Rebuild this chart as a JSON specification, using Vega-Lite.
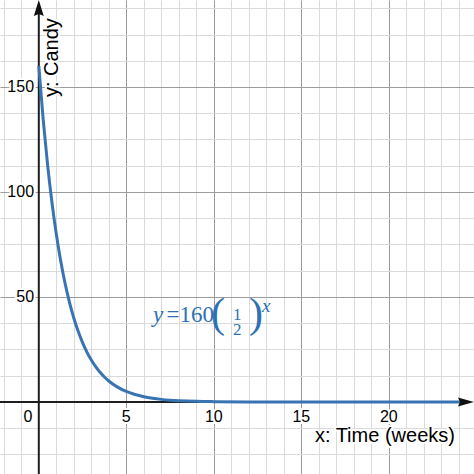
{
  "$schema": "https://vega.github.io/schema/vega-lite/v6.json",
  "width": 474,
  "height": 474,
  "autosize": "none",
  "padding": 0,
  "background": "white",
  "config": {
    "view": {"stroke": null},
    "text": {"font": "Liberation Sans"}
  },
  "datasets": {
    "curve": [
      {"x": 0, "y": 160}, {"x": 0.25, "y": 134.54}, {"x": 0.5, "y": 113.14}, {"x": 0.75, "y": 95.14},
      {"x": 1, "y": 80}, {"x": 1.25, "y": 67.27}, {"x": 1.5, "y": 56.57}, {"x": 1.75, "y": 47.57},
      {"x": 2, "y": 40}, {"x": 2.25, "y": 33.64}, {"x": 2.5, "y": 28.28}, {"x": 2.75, "y": 23.78},
      {"x": 3, "y": 20}, {"x": 3.25, "y": 16.82}, {"x": 3.5, "y": 14.14}, {"x": 3.75, "y": 11.89},
      {"x": 4, "y": 10}, {"x": 4.5, "y": 7.07}, {"x": 5, "y": 5}, {"x": 5.5, "y": 3.54},
      {"x": 6, "y": 2.5}, {"x": 6.5, "y": 1.77}, {"x": 7, "y": 1.25}, {"x": 7.5, "y": 0.88},
      {"x": 8, "y": 0.63}, {"x": 9, "y": 0.31}, {"x": 10, "y": 0.16}, {"x": 12, "y": 0.04},
      {"x": 14, "y": 0.01}, {"x": 24.4, "y": 0}
    ],
    "xaxis": [{"x": -2.217, "x2": 24.4, "y": 0}],
    "yaxis": [{"x": 0, "y": -34.29, "y2": 187}],
    "arrows": [{"x": 0, "y": 187.6, "dir": "up"}, {"x": 24.41, "y": 0, "dir": "right"}],
    "xlabels": [
      {"x": -0.62, "y": -9.5, "t": "0"}, {"x": 5, "y": -9.5, "t": "5"}, {"x": 10, "y": -9.5, "t": "10"},
      {"x": 15, "y": -9.5, "t": "15"}, {"x": 20, "y": -9.5, "t": "20"}
    ],
    "ylabels": [
      {"x": -0.27, "y": 50, "t": "50"}, {"x": -0.27, "y": 100, "t": "100"}, {"x": -0.27, "y": 150, "t": "150"}
    ],
    "xtitle": [{"x": 23.78, "y": -19.05, "t": "x: Time (weeks)"}],
    "ytitle": [{"x": 1.1, "y": 145.2, "t": "y: Candy"}],
    "eqY": [{"x": 6.53, "y": 38.1, "t": "y"}],
    "eqNum": [{"x": 7.3, "y": 38.1, "t": "=160"}],
    "eqParen": [{"x": 9.84, "y": 35.7, "t": "("}, {"x": 12.01, "y": 35.7, "t": ")"}],
    "eqFrac": [{"x": 11.34, "y": 39.2, "t": "1"}, {"x": 11.34, "y": 32.0, "t": "2"}],
    "eqExp": [{"x": 12.75, "y": 42.86, "t": "x"}]
  },
  "encoding": {
    "x": {
      "field": "x",
      "type": "quantitative",
      "scale": {"domain": [-2.217, 24.87], "nice": false, "zero": false},
      "axis": {
        "values": [-2, -1, 1, 2, 3, 4, 5, 6, 7, 8, 9, 10, 11, 12, 13, 14, 15, 16, 17, 18, 19, 20, 21, 22, 23, 24],
        "grid": true,
        "labels": false,
        "ticks": false,
        "domain": false,
        "title": null,
        "gridWidth": 1,
        "gridColor": {"condition": {"test": "datum.value % 5 === 0", "value": "#9c9c9c"}, "value": "#dadada"}
      }
    },
    "y": {
      "field": "y",
      "type": "quantitative",
      "scale": {"domain": [-34.29, 191.43], "nice": false, "zero": false},
      "axis": {
        "values": [-25, -12.5, 12.5, 25, 37.5, 50, 62.5, 75, 87.5, 100, 112.5, 125, 137.5, 150, 162.5, 175, 187.5],
        "grid": true,
        "labels": false,
        "ticks": false,
        "domain": false,
        "title": null,
        "gridWidth": 1,
        "gridColor": {"condition": {"test": "datum.value % 50 === 0", "value": "#9c9c9c"}, "value": "#dadada"}
      }
    }
  },
  "layer": [
    {
      "data": {"name": "xaxis"},
      "mark": {"type": "rule", "color": "#1e1e1e", "strokeWidth": 2},
      "encoding": {"x2": {"field": "x2"}}
    },
    {
      "data": {"name": "yaxis"},
      "mark": {"type": "rule", "color": "#1e1e1e", "strokeWidth": 2},
      "encoding": {"y2": {"field": "y2"}}
    },
    {
      "data": {"name": "curve"},
      "mark": {"type": "line", "color": "#3873b3", "strokeWidth": 3, "interpolate": "monotone"},
      "encoding": {}
    },
    {
      "data": {"name": "arrows"},
      "mark": {"type": "point", "filled": true, "color": "#111111", "size": 256, "opacity": 1},
      "encoding": {
        "shape": {
          "field": "dir",
          "type": "nominal",
          "scale": {
            "domain": ["up", "right"],
            "range": ["M0,-1L0.62,1L0,0.75L-0.62,1Z", "M1,0L-1,-0.56L-0.75,0L-1,0.56Z"]
          },
          "legend": null
        }
      }
    },
    {
      "data": {"name": "xlabels"},
      "mark": {"type": "text", "fontSize": 16, "align": "center", "baseline": "alphabetic", "fill": "white", "stroke": "white", "strokeWidth": 4},
      "encoding": {"text": {"field": "t"}}
    },
    {
      "data": {"name": "xlabels"},
      "mark": {"type": "text", "fontSize": 16, "align": "center", "baseline": "alphabetic", "color": "#000000"},
      "encoding": {"text": {"field": "t"}}
    },
    {
      "data": {"name": "ylabels"},
      "mark": {"type": "text", "fontSize": 16, "align": "right", "baseline": "middle", "fill": "white", "stroke": "white", "strokeWidth": 4},
      "encoding": {"text": {"field": "t"}}
    },
    {
      "data": {"name": "ylabels"},
      "mark": {"type": "text", "fontSize": 16, "align": "right", "baseline": "middle", "color": "#000000"},
      "encoding": {"text": {"field": "t"}}
    },
    {
      "data": {"name": "xtitle"},
      "mark": {"type": "text", "fontSize": 20, "align": "right", "baseline": "alphabetic", "fill": "white", "stroke": "white", "strokeWidth": 4},
      "encoding": {"text": {"field": "t"}}
    },
    {
      "data": {"name": "xtitle"},
      "mark": {"type": "text", "fontSize": 20, "align": "right", "baseline": "alphabetic", "color": "#000000"},
      "encoding": {"text": {"field": "t"}}
    },
    {
      "data": {"name": "ytitle"},
      "mark": {"type": "text", "fontSize": 20, "angle": 270, "align": "left", "baseline": "alphabetic", "fill": "white", "stroke": "white", "strokeWidth": 4},
      "encoding": {"text": {"field": "t"}}
    },
    {
      "data": {"name": "ytitle"},
      "mark": {"type": "text", "fontSize": 20, "angle": 270, "align": "left", "baseline": "alphabetic", "color": "#000000"},
      "encoding": {"text": {"field": "t"}}
    },
    {
      "data": {"name": "eqY"},
      "mark": {"type": "text", "font": "Liberation Serif", "fontStyle": "italic", "fontSize": 23, "align": "left", "baseline": "alphabetic", "color": "#2d70b3"},
      "encoding": {"text": {"field": "t"}}
    },
    {
      "data": {"name": "eqNum"},
      "mark": {"type": "text", "font": "Liberation Serif", "fontSize": 23, "align": "left", "baseline": "alphabetic", "color": "#2d70b3"},
      "encoding": {"text": {"field": "t"}}
    },
    {
      "data": {"name": "eqParen"},
      "mark": {"type": "text", "font": "Liberation Serif", "fontSize": 42, "align": "left", "baseline": "alphabetic", "color": "#2d70b3"},
      "encoding": {"text": {"field": "t"}}
    },
    {
      "data": {"name": "eqFrac"},
      "mark": {"type": "text", "font": "Liberation Serif", "fontSize": 17, "align": "center", "baseline": "alphabetic", "color": "#2d70b3"},
      "encoding": {"text": {"field": "t"}}
    },
    {
      "data": {"name": "eqExp"},
      "mark": {"type": "text", "font": "Liberation Serif", "fontStyle": "italic", "fontSize": 19, "align": "left", "baseline": "alphabetic", "color": "#2d70b3"},
      "encoding": {"text": {"field": "t"}}
    }
  ]
}
